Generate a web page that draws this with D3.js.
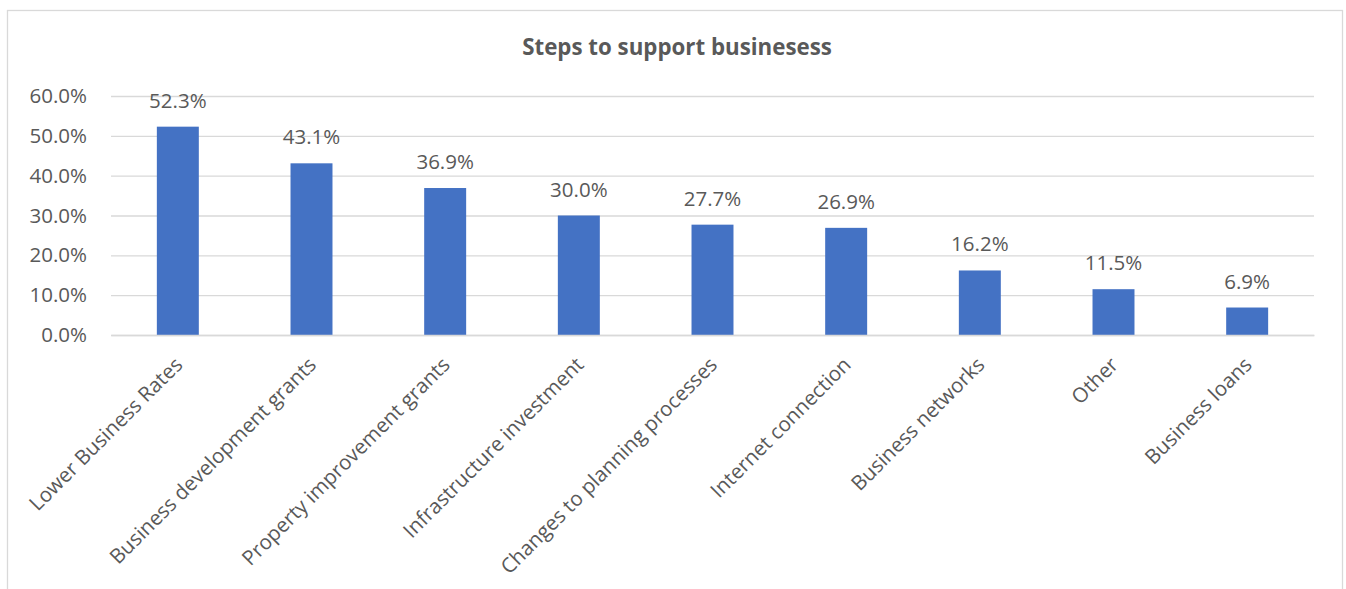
<!DOCTYPE html>
<html>
<head>
<meta charset="utf-8">
<script src="https://cdn.jsdelivr.net/npm/d3@7"></script>
<style>
  html, body { margin: 0; padding: 0; background: #fff; }
  svg { display: block; }
  text { font-family: "Open Sans", "Noto Sans", sans-serif; fill: #595959; }
</style>
</head>
<body>
<svg id="chart" width="1346" height="589"></svg>
<script>
// Survey responses: steps that would support local businesses
const categories = [
  "Lower Business Rates",
  "Business development grants",
  "Property improvement grants",
  "Infrastructure investment",
  "Changes to planning processes",
  "Internet connection",
  "Business networks",
  "Other",
  "Business loans"
];
const shares = [0.523, 0.431, 0.369, 0.300, 0.277, 0.269, 0.162, 0.115, 0.069];
const yTicks = [0, 0.1, 0.2, 0.3, 0.4, 0.5, 0.6];
const chartTitle = "Steps to support businesess";

const svg = d3.select("#chart");
const plot = { left: 111, right: 1314, top: 96, bottom: 335 };
const FS = 20.5;

// chart frame
svg.append("rect")
  .attr("x", 7.5).attr("y", 10.5)
  .attr("width", 1335).attr("height", 600)
  .attr("fill", "#fff")
  .attr("stroke", "#d9d9d9").attr("stroke-width", 1.3);

const x = d3.scaleBand()
  .domain(categories)
  .range([plot.left, plot.right])
  .paddingInner(0.686).paddingOuter(0.343);

const y = d3.scaleLinear()
  .domain([0, 0.6])
  .range([plot.bottom, plot.top]);

const pct = d3.format(".1%");

// gridlines + y labels
const yAxis = d3.axisLeft(y)
  .tickValues(yTicks)
  .tickSize(-(plot.right - plot.left))
  .tickPadding(24)
  .tickFormat(pct);

const gy = svg.append("g")
  .attr("transform", `translate(${plot.left},0)`)
  .call(yAxis);
gy.select(".domain").remove();
gy.selectAll(".tick line").attr("stroke", "#d9d9d9").attr("stroke-width", 1.3);
gy.selectAll(".tick text")
  .attr("font-size", FS)
  .style("fill", "#595959");

// bars
svg.append("g").selectAll("rect")
  .data(shares)
  .join("rect")
  .attr("x", (d, i) => x(categories[i]))
  .attr("y", d => y(d))
  .attr("width", x.bandwidth())
  .attr("height", d => y(0) - y(d))
  .attr("fill", "#4472c4");

// value labels
svg.append("g").selectAll("text")
  .data(shares)
  .join("text")
  .attr("x", (d, i) => x(categories[i]) + x.bandwidth() / 2)
  .attr("y", d => y(d) - 19)
  .attr("text-anchor", "middle")
  .attr("font-size", FS)
  .text(d => pct(d));

// category axis, labels rotated
const xAxis = d3.axisBottom(x).tickSize(0).tickPadding(0);
const gx = svg.append("g")
  .attr("transform", `translate(0,${plot.bottom})`)
  .call(xAxis);
gx.select(".domain").attr("stroke", "#d9d9d9").attr("stroke-width", 1.3);
gx.selectAll(".tick text")
  .attr("font-size", FS)
  .style("fill", "#595959")
  .attr("text-anchor", "end")
  .attr("dy", null)
  .attr("transform", "translate(6,31) rotate(-45)");

// title
svg.append("text")
  .attr("x", 677)
  .attr("y", 55)
  .attr("text-anchor", "middle")
  .attr("font-size", 22.3)
  .attr("font-weight", "bold")
  .text(chartTitle);
</script>
</body>
</html>
